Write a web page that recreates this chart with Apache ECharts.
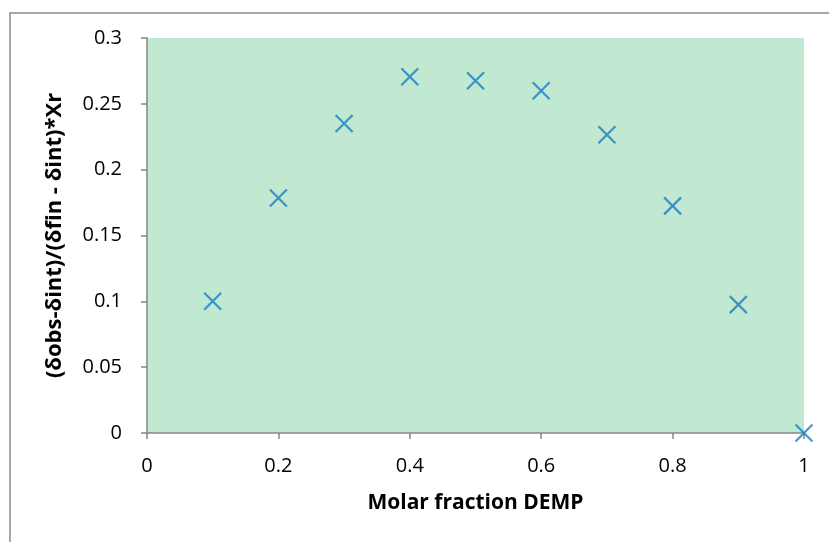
<!DOCTYPE html>
<html><head><meta charset="utf-8">
<script src="https://cdn.jsdelivr.net/npm/echarts@6/dist/echarts.min.js"></script>
<style>html,body{margin:0;padding:0;background:#fff}#c{width:829px;height:542px}</style>
</head><body><div id="c"></div>
<script>
const xValues = [0.1, 0.2, 0.3, 0.4, 0.5, 0.6, 0.7, 0.8, 0.9, 1.0];
const yValues = [0.100, 0.1785, 0.235, 0.2705, 0.2675, 0.260, 0.2265, 0.1725, 0.0975, 0.0];
const xTitle = 'Molar fraction DEMP';
const yTitle = '(δobs-δint)/(δfin - δint)*Xr';

const chart = echarts.init(document.getElementById('c'), null, {renderer: 'canvas'});
const font = '"Open Sans", "Liberation Sans", sans-serif';
chart.setOption({
  animation: false,
  graphic: [{
    type: 'rect', left: 7.5, top: 10.5, z: -10,
    shape: {width: 840, height: 560},
    style: {fill: 'none', stroke: '#8c8c8c', lineWidth: 1.5}
  }],
  grid: {left: 147, right: 25, top: 38, bottom: 109, show: true, backgroundColor: '#c1e8d0', borderWidth: 0},
  xAxis: {
    type: 'value', min: 0, max: 1, interval: 0.2,
    name: xTitle, nameLocation: 'middle', nameGap: 60,
    nameTextStyle: {fontFamily: font, fontSize: 21, fontWeight: 'bold', color: '#000'},
    axisLine: {show: true, lineStyle: {color: '#868686', width: 1.5}},
    axisTick: {show: true, length: 6, lineStyle: {color: '#868686', width: 1.5}},
    axisLabel: {fontFamily: font, fontSize: 20, color: '#000', margin: 23},
    splitLine: {show: false}
  },
  yAxis: {
    type: 'value', min: 0, max: 0.3, interval: 0.05,
    name: yTitle, nameLocation: 'middle', nameGap: 81, nameRotate: 90,
    nameTextStyle: {fontFamily: font, fontSize: 22, fontWeight: 'bold', color: '#000'},
    axisLine: {show: true, lineStyle: {color: '#868686', width: 1.5}},
    axisTick: {show: true, length: 6, lineStyle: {color: '#868686', width: 1.5}},
    axisLabel: {fontFamily: font, fontSize: 20, color: '#000', margin: 25,
      formatter: v => String(+v.toFixed(2))},
    splitLine: {show: false}
  },
  series: [{
    type: 'scatter',
    data: xValues.map((x, i) => [x, yValues[i]]),
    symbol: 'path://M0,0L10,10M10,0L0,10',
    symbolSize: 17,
    itemStyle: {color: '#1a7cc2', borderColor: '#1a7cc2', borderWidth: 2.2},
    clip: false
  }]
});
</script></body></html>
